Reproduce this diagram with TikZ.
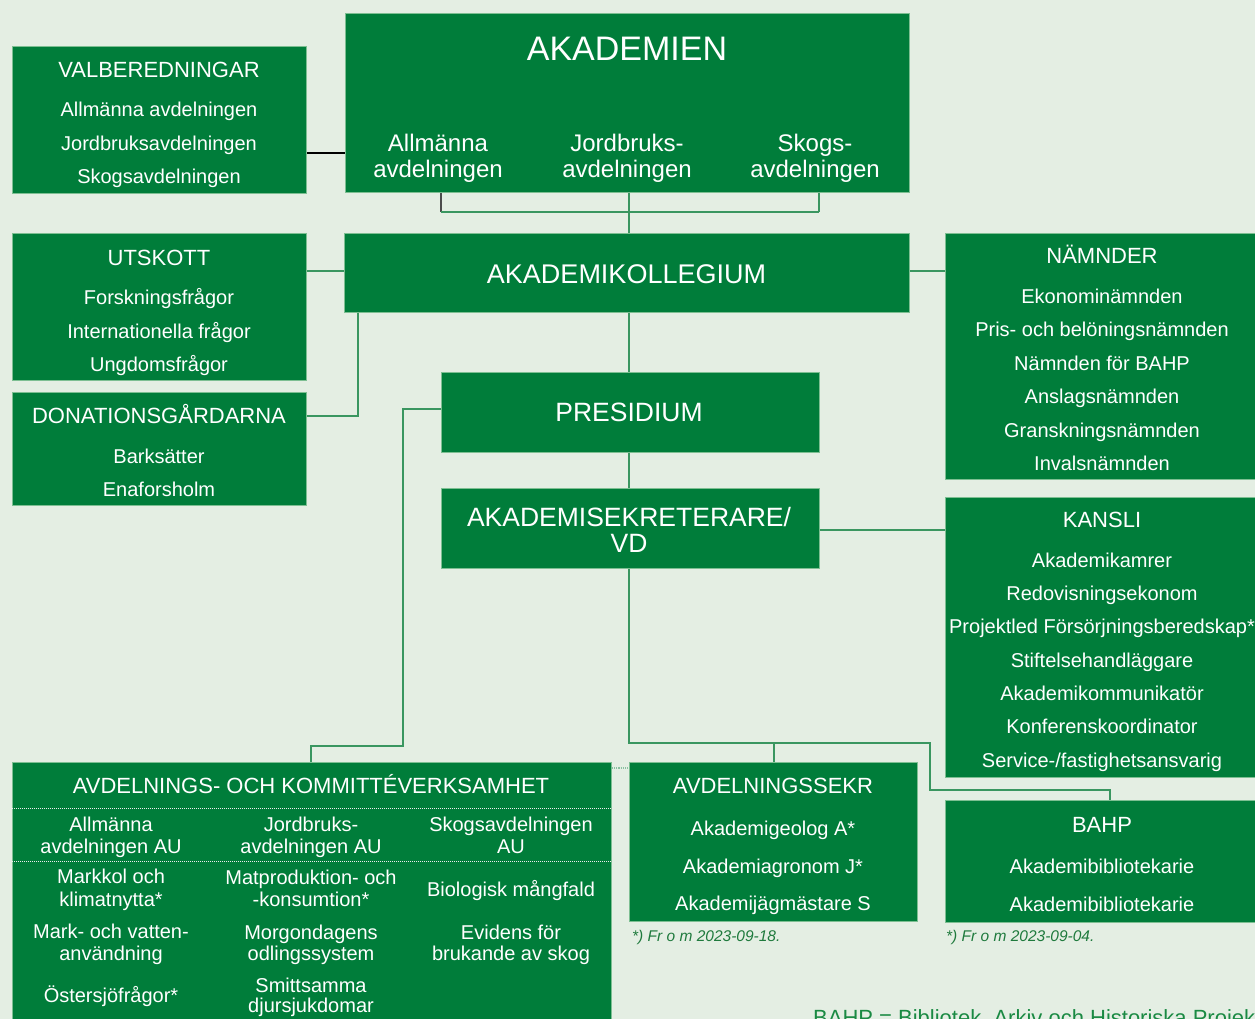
\documentclass[tikz,border=0pt]{standalone}
\usepackage{fontspec}
\setmainfont{Liberation Sans}
\definecolor{bg}{HTML}{E4EEE3}
\definecolor{boxg}{HTML}{007D3A}
\definecolor{edge}{HTML}{7DBF92}
\definecolor{conn}{HTML}{3A9660}
\definecolor{note}{HTML}{1F7A3D}
\definecolor{legend}{HTML}{1A8A43}
\newcommand\fsz[1]{\fontsize{#1}{#1}\selectfont}
\begin{document}
\begin{tikzpicture}[x=1pt,y=-1pt,
 box/.style={fill=boxg, draw=edge, line width=0.8pt, inner sep=0pt, anchor=north west},
 txt/.style={text=white, inner sep=0pt, anchor=base},
 ln/.style={draw=conn, line width=1.2pt},
 dotln/.style={draw=conn!60!white, line width=1.2pt, densely dotted},
 sepln/.style={draw=white!85!gray, line width=1pt, densely dotted},
 foot/.style={text=note, inner sep=0pt, anchor=base west, font=\fsz{15.5}\itshape},
]
\useasboundingbox (0,0) rectangle (1255,1019);
\fill[bg] (0,0) rectangle (1255,1019);
\begin{scope}
\clip (0,0) rectangle (1255,1019);
% helper coordinates
\coordinate (c153) at (0,153);
\coordinate (c271) at (0,271);
\coordinate (c530) at (0,530);
\coordinate (c768) at (0,768);
\coordinate (bl) at (441,212);
\coordinate (bm) at (629,212);
\coordinate (br) at (819,212);
\coordinate (dk) at (358,416);
\coordinate (pl1) at (403,409);
\coordinate (pl2) at (311,746);
\coordinate (s1) at (629,743);
\coordinate (s2) at (930,790);
\coordinate (s3) at (1110,790);
\coordinate (s4) at (774,743);
\coordinate (d1) at (0,808.5);
\coordinate (d2) at (0,861.5);
% boxes
\node[box, minimum width=294pt, minimum height=147pt] (valb) at (12,46) {};
\node[box, minimum width=564pt, minimum height=179pt] (akad) at (345,13) {};
\node[box, minimum width=294pt, minimum height=147pt] (utsk) at (12,233) {};
\node[box, minimum width=565pt, minimum height=79pt] (kolleg) at (344,233) {};
\node[box, minimum width=294pt, minimum height=113pt] (donat) at (12,392) {};
\node[box, minimum width=314pt, minimum height=246pt] (namnd) at (945,233) {};
\node[box, minimum width=378pt, minimum height=80pt] (presid) at (441,372) {};
\node[box, minimum width=378pt, minimum height=80pt] (aksekr) at (441,488) {};
\node[box, minimum width=314pt, minimum height=280pt] (kansli) at (945,497) {};
\node[box, minimum width=599pt, minimum height=270pt] (avdk) at (12,762) {};
\node[box, minimum width=288pt, minimum height=159pt] (avsekr) at (629,762) {};
\node[box, minimum width=314pt, minimum height=122pt] (bahp) at (945,800) {};
% connectors
\draw[line width=1.2pt, black] (valb.east |- c153) -- (akad.west |- c153);
\draw[line width=1.2pt, draw=gray!60!black] (akad.south -| bl) -- (bl);
\draw[ln] (bl) -- (br);
\draw[ln] (akad.south -| br) -- (br);
\draw[ln] (akad.south -| bm) -- (kolleg.north -| bm);
\draw[ln] (utsk.east |- c271) -- (kolleg.west |- c271);
\draw[ln] (kolleg.east |- c271) -- (namnd.west |- c271);
\draw[ln] (kolleg.south -| dk) -- (dk) -- (donat.east |- dk);
\draw[ln] (kolleg.south -| bm) -- (presid.north -| bm);
\draw[ln] (presid.west |- pl1) -- (pl1) |- (pl2) -- (avdk.north -| pl2);
\draw[ln] (presid.south -| bm) -- (aksekr.north -| bm);
\draw[ln] (aksekr.east |- c530) -- (kansli.west |- c530);
\draw[ln] (aksekr.south -| s1) -- (s1) -| (s2) -- (s3) -- (bahp.north -| s3);
\draw[ln] (s4) -- (avsekr.north -| s4);
\draw[dotln] (avdk.east |- c768) -- (avsekr.west |- c768);
\draw[sepln] (avdk.west |- d1) -- (avdk.east |- d1);
\draw[sepln] (avdk.west |- d2) -- (avdk.east |- d2);
% VALBEREDNINGAR
\node[txt, font=\fsz{22}] (vt) at (159,78) {VALBEREDNINGAR};
\node[txt, font=\fsz{20}] (v1) at (159,117) {Allmänna avdelningen};
\node[txt, font=\fsz{20}] (v2) at (159,151) {Jordbruksavdelningen};
\node[txt, font=\fsz{20}] (v3) at (159,184) {Skogsavdelningen};
% AKADEMIEN
\node[txt, font=\fsz{34}] (at) at (627,60.5) {AKADEMIEN};
\node[txt, font=\fsz{24}] (a1a) at (438,152) {Allmänna};
\node[txt, font=\fsz{24}] (a1b) at (438,178) {avdelningen};
\node[txt, font=\fsz{24}] (a2a) at (627,152) {Jordbruks-};
\node[txt, font=\fsz{24}] (a2b) at (627,178) {avdelningen};
\node[txt, font=\fsz{24}] (a3a) at (815,152) {Skogs-};
\node[txt, font=\fsz{24}] (a3b) at (815,178) {avdelningen};
% UTSKOTT
\node[txt, font=\fsz{22}] (ut) at (159,265) {UTSKOTT};
\node[txt, font=\fsz{20}] (u1) at (159,304) {Forskningsfrågor};
\node[txt, font=\fsz{20}] (u2) at (159,338) {Internationella frågor};
\node[txt, font=\fsz{20}] (u3) at (159,371) {Ungdomsfrågor};
% AKADEMIKOLLEGIUM
\node[txt, font=\fsz{27}] (kt) at (626.5,283) {AKADEMIKOLLEGIUM};
% DONATIONSGÅRDARNA
\node[txt, font=\fsz{22}] (dt) at (159,423) {DONATIONSGÅRDARNA};
\node[txt, font=\fsz{20}] (d1t) at (159,463) {Barksätter};
\node[txt, font=\fsz{20}] (d2t) at (159,496) {Enaforsholm};
% NÄMNDER
\node[txt, font=\fsz{22}] (nt) at (1102,263.5) {NÄMNDER};
\node[txt, font=\fsz{20}] (n1) at (1102,303) {Ekonominämnden};
\node[txt, font=\fsz{20}] (n2) at (1102,336.5) {Pris- och belöningsnämnden};
\node[txt, font=\fsz{20}] (n3) at (1102,370) {Nämnden för BAHP};
\node[txt, font=\fsz{20}] (n4) at (1102,403.5) {Anslagsnämnden};
\node[txt, font=\fsz{20}] (n5) at (1102,437) {Granskningsnämnden};
\node[txt, font=\fsz{20}] (n6) at (1102,470) {Invalsnämnden};
% PRESIDIUM
\node[txt, font=\fsz{26.5}] (pt) at (629,421.5) {PRESIDIUM};
% AKADEMISEKRETERARE
\node[txt, font=\fsz{26.5}] (st1) at (629,526) {AKADEMISEKRETERARE/};
\node[txt, font=\fsz{26.5}] (st2) at (629,552) {VD};
% KANSLI
\node[txt, font=\fsz{22}] (kat) at (1102,527.5) {KANSLI};
\node[txt, font=\fsz{20}] (k1) at (1102,567) {Akademikamrer};
\node[txt, font=\fsz{20}] (k2) at (1102,600.5) {Redovisningsekonom};
\node[txt, font=\fsz{20}] (k3) at (1102,633.5) {Projektled Försörjningsberedskap*};
\node[txt, font=\fsz{20}] (k4) at (1102,667) {Stiftelsehandläggare};
\node[txt, font=\fsz{20}] (k5) at (1102,700.5) {Akademikommunikatör};
\node[txt, font=\fsz{20}] (k6) at (1102,733.5) {Konferenskoordinator};
\node[txt, font=\fsz{20}] (k7) at (1102,767) {Service-/fastighetsansvarig};
% AVDELNINGS- OCH KOMMITTÉVERKSAMHET
\node[txt, font=\fsz{22}] (avt) at (311,793.5) {AVDELNINGS- OCH KOMMITTÉVERKSAMHET};
\node[txt, font=\fsz{20}] (r1a1) at (111,831.5) {Allmänna};
\node[txt, font=\fsz{20}] (r1a2) at (111,853.5) {avdelningen AU};
\node[txt, font=\fsz{20}] (r1b1) at (311,831.5) {Jordbruks-};
\node[txt, font=\fsz{20}] (r1b2) at (311,853.5) {avdelningen AU};
\node[txt, font=\fsz{20}] (r1c1) at (511,831.5) {Skogsavdelningen};
\node[txt, font=\fsz{20}] (r1c2) at (511,853.5) {AU};
\node[txt, font=\fsz{20}] (r2a1) at (111,883.5) {Markkol och};
\node[txt, font=\fsz{20}] (r2a2) at (111,906.5) {klimatnytta*};
\node[txt, font=\fsz{20}] (r2b1) at (311,884) {Matproduktion- och};
\node[txt, font=\fsz{20}] (r2b2) at (311,906.5) {-konsumtion*};
\node[txt, font=\fsz{20}] (r2c) at (511,896) {Biologisk mångfald};
\node[txt, font=\fsz{20}] (r3a1) at (111,938.5) {Mark- och vatten-};
\node[txt, font=\fsz{20}] (r3a2) at (111,960.5) {användning};
\node[txt, font=\fsz{20}] (r3b1) at (311,939.5) {Morgondagens};
\node[txt, font=\fsz{20}] (r3b2) at (311,960) {odlingssystem};
\node[txt, font=\fsz{20}] (r3c1) at (511,939.5) {Evidens för};
\node[txt, font=\fsz{20}] (r3c2) at (511,960) {brukande av skog};
\node[txt, font=\fsz{20}] (r4a) at (111,1002) {Östersjöfrågor*};
\node[txt, font=\fsz{20}] (r4b1) at (311,992) {Smittsamma};
\node[txt, font=\fsz{20}] (r4b2) at (311,1012) {djursjukdomar};
% AVDELNINGSSEKR
\node[txt, font=\fsz{22}] (ast) at (773,793.5) {AVDELNINGSSEKR};
\node[txt, font=\fsz{20}] (as1) at (773,835.5) {Akademigeolog A*};
\node[txt, font=\fsz{20}] (as2) at (773,873.5) {Akademiagronom J*};
\node[txt, font=\fsz{20}] (as3) at (773,910.5) {Akademijägmästare S};
\node[foot] (f1) at (632,941) {*) Fr o m 2023-09-18.};
% BAHP
\node[txt, font=\fsz{22}] (bt) at (1102,832) {BAHP};
\node[txt, font=\fsz{20}] (b1) at (1102,873.5) {Akademibibliotekarie};
\node[txt, font=\fsz{20}] (b2) at (1102,911) {Akademibibliotekarie};
\node[foot] (f2) at (946,941) {*) Fr o m 2023-09-04.};
% legend
\node[text=legend, inner sep=0pt, anchor=base west, font=\fsz{22}] (leg) at (813,1025) {BAHP = Bibliotek, Arkiv och Historiska Projekt};
\end{scope}
\end{tikzpicture}
\end{document}
